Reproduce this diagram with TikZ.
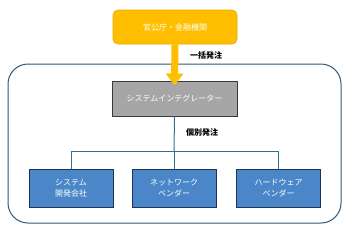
\documentclass[tikz,border=0pt]{standalone}
\usepackage{fontspec}
\setmainfont{Noto Sans CJK JP}
\usetikzlibrary{arrows.meta}
\definecolor{orangefill}{HTML}{FFBF00}
\definecolor{orangeline}{HTML}{E8A800}
\definecolor{grayfill}{HTML}{A6A6A6}
\definecolor{grayline}{HTML}{3A3A3A}
\definecolor{bluefill}{HTML}{4A86C8}
\definecolor{blueline}{HTML}{1E3552}
\definecolor{frameline}{HTML}{2F5A78}
\definecolor{connline}{HTML}{31708F}
\begin{document}
\begin{tikzpicture}[x=1pt,y=-1pt,
  boxtxt/.style={font=\fontsize{8}{11}\selectfont, text=white, align=center, inner sep=0pt},
  topbox/.style={boxtxt, fill=orangefill, draw=orangeline, line width=0.6pt, rounded corners=5pt, minimum width=124pt, minimum height=34pt},
  sibox/.style={boxtxt, fill=grayfill, draw=grayline, line width=1pt, minimum width=125pt, minimum height=35pt},
  vbox/.style={boxtxt, fill=bluefill, draw=blueline, line width=1pt, minimum width=84pt, minimum height=38pt},
  lbl/.style={font=\fontsize{8}{10}\selectfont\bfseries, text=black, inner sep=0pt, anchor=west},
  conn/.style={draw=connline, line width=1pt}
]
\useasboundingbox (0,0) rectangle (350,234);
\fill[white] (0,0) rectangle (350,234);
% outer frame
\draw[frameline, line width=1pt, rounded corners=20pt] (8,64) rectangle (341,223);
% nodes
\node[topbox] (gov) at (175,27) {官公庁・金融機関};
\node[sibox] (si) at (174.5,98.5) {システムインテグレーター};
\node[vbox] (v1) at (71,188) {システム\\開発会社};
\node[vbox] (v2) at (174,188) {ネットワーク\\ベンダー};
\node[vbox] (v3) at (278.5,188) {ハードウェア\\ベンダー};
% connectors
\coordinate (hub) at (174,151);
\draw[conn] (si.south) -- (hub);
\draw[conn] (v1.north) |- (hub);
\draw[conn] (v3.north) |- (hub);
\draw[conn] (v2.north) -- (hub);
% arrow
\draw[orangefill, line width=7pt, -{Triangle[width=17pt,length=12pt]}] (gov.south) -- ([yshift=-5pt]si.north);
% labels
\node[lbl] (l1) at (190,55) {一括発注};
\node[lbl] (l2) at (186,132) {個別発注};
\end{tikzpicture}
\end{document}
